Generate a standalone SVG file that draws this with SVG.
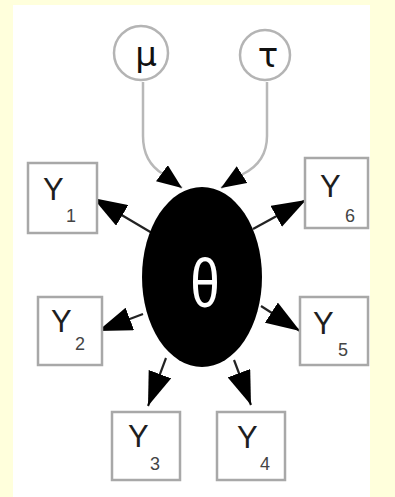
<svg xmlns="http://www.w3.org/2000/svg" width="395" height="497" viewBox="0 0 395 497">
<style>
.bg{fill:#ffffdc}
.panel{fill:#ffffff}
.hyper{fill:#ffffff;stroke:#b4b4b4;stroke-width:2.5}
.obs{fill:#ffffff;stroke:#a8a8a8;stroke-width:2.5}
.lbl{font-family:"Liberation Sans",Arial,sans-serif;fill:#1e1e1e}
.y{font-size:31px}
.sub{font-size:18px;fill:#444}
.gr{font-family:"DejaVu Sans","Liberation Sans",sans-serif;fill:#111;font-size:34px}
.out{stroke:#222;stroke-width:2.2;fill:none;marker-end:url(#big)}
.in{stroke:#b8b8b8;stroke-width:2.5;fill:none;marker-end:url(#small)}
</style>
<defs>
<marker id="big" markerUnits="userSpaceOnUse" markerWidth="34" markerHeight="24" refX="34" refY="12" orient="auto">
<path d="M0,0 L34,12 L0,24 Z" fill="#000"/>
</marker>
<marker id="small" markerUnits="userSpaceOnUse" markerWidth="25" markerHeight="20" refX="25" refY="10" orient="auto">
<path d="M0,0 L25,10 L0,20 Z" fill="#000"/>
</marker>
</defs>
<rect class="bg" x="0" y="0" width="395" height="497"/>
<rect class="panel" x="13" y="5" width="357" height="492"/>
<g id="connectors">
<path class="in" d="M143,82 L143,136 Q143,162 163,174 L182,188"/>
<path class="in" d="M267,82 L267,136 Q267,162 243,174 L221,188"/>
<line class="out" x1="152" y1="233" x2="93" y2="198"/>
<line class="out" x1="253" y1="229" x2="306" y2="200"/>
<line class="out" x1="143" y1="314" x2="98" y2="331"/>
<line class="out" x1="261" y1="306" x2="300" y2="331"/>
<line class="out" x1="166" y1="358" x2="148" y2="406"/>
<line class="out" x1="234" y1="360" x2="251" y2="405"/>
</g>
<g id="node-mu">
<circle class="hyper" cx="141" cy="53" r="27"/>
<text class="gr" x="146" y="66" text-anchor="middle">μ</text>
</g>
<g id="node-tau">
<circle class="hyper" cx="265" cy="55" r="25"/>
<text class="gr" x="268" y="67" text-anchor="middle">τ</text>
</g>
<g id="node-theta">
<ellipse cx="202" cy="277" rx="60" ry="90" fill="#000"/>
<text x="205" y="307" text-anchor="middle" font-family="Liberation Sans,Arial,sans-serif" font-size="68" fill="#fff" transform="translate(205 282) scale(0.78 1) translate(-205 -282)">θ</text>
</g>
<g id="node-y1">
<rect class="obs" x="28" y="163" width="69" height="70"/>
<text class="lbl y" x="43" y="200">Y</text><text class="lbl sub" x="66" y="222">1</text>
</g>
<g id="node-y6">
<rect class="obs" x="305" y="158" width="63" height="70"/>
<text class="lbl y" x="320" y="197">Y</text><text class="lbl sub" x="345" y="222">6</text>
</g>
<g id="node-y2">
<rect class="obs" x="38" y="297" width="64" height="68"/>
<text class="lbl y" x="51" y="332">Y</text><text class="lbl sub" x="75" y="350">2</text>
</g>
<g id="node-y5">
<rect class="obs" x="300" y="297" width="68" height="68"/>
<text class="lbl y" x="313" y="334">Y</text><text class="lbl sub" x="338" y="356">5</text>
</g>
<g id="node-y3">
<rect class="obs" x="112" y="412" width="68" height="68"/>
<text class="lbl y" x="128" y="447">Y</text><text class="lbl sub" x="150" y="470">3</text>
</g>
<g id="node-y4">
<rect class="obs" x="217" y="412" width="68" height="68"/>
<text class="lbl y" x="237" y="448">Y</text><text class="lbl sub" x="260" y="470">4</text>
</g>
</svg>
